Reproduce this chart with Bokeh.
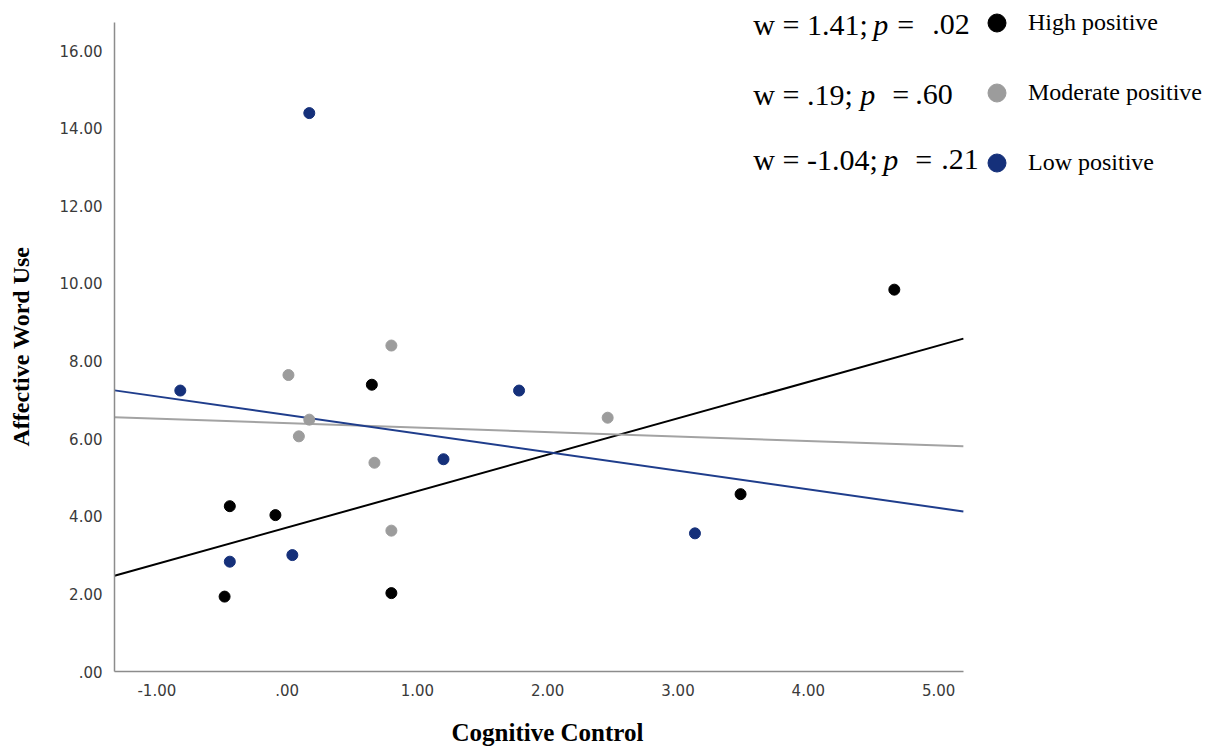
from bokeh.plotting import figure
from bokeh.models import Range1d, FixedTicker, Label, Legend, LegendItem, Title
from bokeh.embed import file_html
from bokeh.resources import INLINE

# ---------------- data ----------------
groups = ["High positive", "Moderate positive", "Low positive"]

high_x = [-0.44, -0.09, 0.65, -0.48, 0.80, 3.48, 4.66]
high_y = [4.26, 4.03, 7.39, 1.93, 2.02, 4.57, 9.84]

mod_x = [0.01, 0.80, 0.17, 0.09, 0.67, 0.80, 2.46]
mod_y = [7.64, 8.40, 6.49, 6.06, 5.38, 3.63, 6.54]

low_x = [-0.82, 0.17, -0.44, 0.04, 1.20, 1.78, 3.13]
low_y = [7.24, 14.39, 2.83, 3.00, 5.47, 7.24, 3.56]

# simple-slope fit lines (intercept at x = 0, slope) for High / Moderate / Low
fit_intercept = [3.71, 6.40, 6.61]
fit_slope = [0.938, -0.115, -0.479]

w_values = ["1.41", ".19", "-1.04"]
p_values = [".02", ".60", ".21"]

x_ticks = [-1, 0, 1, 2, 3, 4, 5]
x_tick_labels = ["-1.00", ".00", "1.00", "2.00", "3.00", "4.00", "5.00"]
y_ticks = [0, 2, 4, 6, 8, 10, 12, 14, 16]
y_tick_labels = [".00", "2.00", "4.00", "6.00", "8.00", "10.00", "12.00", "14.00", "16.00"]

# axis extents (plotted area) and the wider canvas area that also holds the key
x_lo, x_hi = -1.325, 5.19
y_lo, y_hi = 0.0, 16.73
x_canvas_hi = 7.056
y_canvas_hi = 17.24

# ---------------- styles ----------------
point_colors = ["#000000", "#9c9c9c", "#15307a"]
line_colors = ["#000000", "#a3a3a3", "#1f3d8c"]
SERIF = "Liberation Serif"

p = figure(width=1206, height=746,
           x_range=Range1d(x_lo, x_canvas_hi), y_range=Range1d(y_lo, y_canvas_hi),
           output_backend="svg", toolbar_location=None,
           min_border_left=114, min_border_right=0,
           min_border_top=2, min_border_bottom=75)
p.outline_line_color = None
p.grid.visible = False
p.background_fill_color = "white"

for ax in (p.xaxis[0], p.yaxis[0]):
    ax.axis_line_color = "#8c8c8c"
    ax.axis_line_width = 1.5
    ax.major_tick_line_color = None
    ax.minor_tick_line_color = None
    ax.major_label_text_font = "DejaVu Sans"
    ax.major_label_text_font_size = "15px"
    ax.major_label_text_color = "#3a3a3a"

p.xaxis.bounds = (x_lo, x_hi)
p.yaxis.bounds = (y_lo, y_hi)
p.xaxis.ticker = FixedTicker(ticks=x_ticks)
p.xaxis.major_label_overrides = dict(zip(x_ticks, x_tick_labels))
p.yaxis.ticker = FixedTicker(ticks=y_ticks)
p.yaxis.major_label_overrides = dict(zip(y_ticks, y_tick_labels))
p.xaxis.major_label_standoff = 6
p.yaxis.major_label_standoff = 6

# axis titles, centred on the axis lines (not on the wider canvas)
p.add_layout(Title(text="Cognitive Control", align="left", offset=337, standoff=0,
                   padding=dict(left=0, right=0, top=18, bottom=0),
                   text_font=SERIF, text_font_style="bold", text_font_size="25px",
                   text_color="#000000"), "below")
p.add_layout(Title(text="Affective Word Use", align="left", offset=225, standoff=0,
                   padding=dict(left=0, right=0, top=0, bottom=23),
                   text_font=SERIF, text_font_style="bold", text_font_size="24px",
                   text_color="#000000"), "left")

# fit lines
line_x = [x_lo, x_hi]
for a, b, c in zip(fit_intercept, fit_slope, line_colors):
    p.line(line_x, [a + b * x for x in line_x], line_color=c, line_width=2)

# points
renderers = []
for xs, ys, c in zip([high_x, mod_x, low_x], [high_y, mod_y, low_y], point_colors):
    renderers.append(p.scatter(xs, ys, size=11, fill_color=c, line_color=c))

# legend (marker + group name)
items = [LegendItem(label=g, renderers=[r]) for g, r in zip(groups, renderers)]
legend = Legend(items=items, location=(860, 486), glyph_width=45, glyph_height=45,
                spacing=25, label_standoff=9, padding=0, margin=0,
                border_line_alpha=0, background_fill_alpha=0,
                label_text_font=SERIF, label_text_font_size="24px",
                label_text_color="#000000")
p.add_layout(legend)

# statistics text to the left of each legend marker
corner_px = (963, 22)   # position of the plotted area's top-right corner
row_baseline = [24.7, 94.7, 159.7]
w_start = [753, 753, 753]
p_start = [873, 860, 883]
eq_start = [897, 892, 915]
val_start = [932, 915, 941]
for i in range(3):
    pieces = [("w = %s;" % w_values[i], "normal", w_start[i]),
              ("p", "italic", p_start[i]),
              ("=", "normal", eq_start[i]),
              (p_values[i], "normal", val_start[i])]
    for txt, style, px in pieces:
        p.add_layout(Label(x=x_hi, y=y_hi, x_offset=px - corner_px[0],
                           y_offset=corner_px[1] - row_baseline[i], text=txt,
                           text_font=SERIF, text_font_style=style,
                           text_font_size="30px", text_color="#000000",
                           text_align="left", text_baseline="alphabetic"))

open("out.html", "w").write(file_html(p, INLINE))
